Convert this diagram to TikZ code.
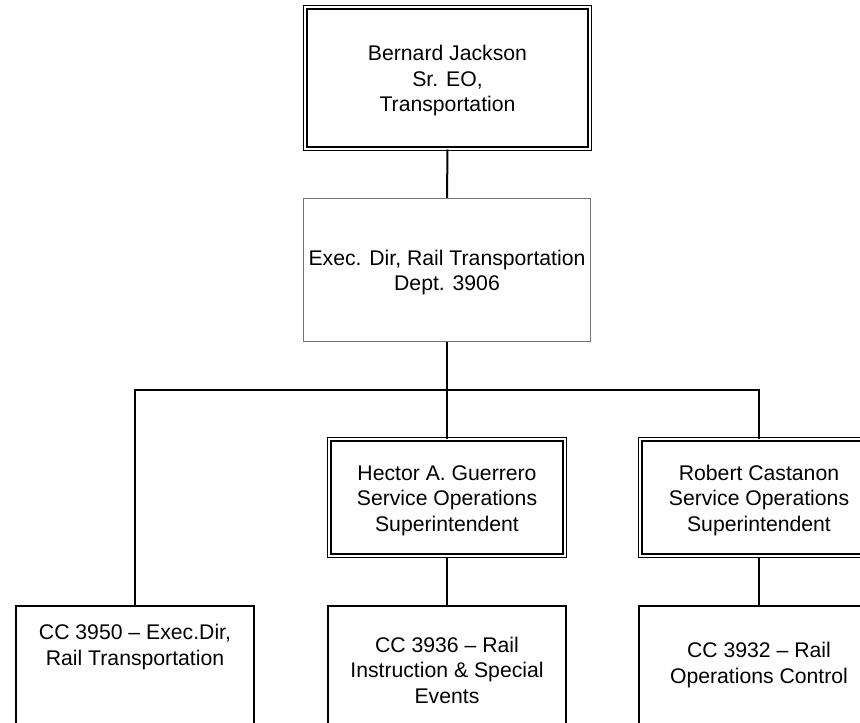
\documentclass[tikz,border=0pt]{standalone}
\usepackage{fontspec}
\setmainfont{Liberation Sans}
\newcommand\padtop[1]{\rule{0pt}{#1}}
\begin{document}
\begin{tikzpicture}[x=1pt,y=-1pt,
  txt/.style={font=\fontsize{21.2}{25.5}\selectfont, align=center, inner sep=0pt},
  dbox/.style={draw=black, double=white, line width=1.5pt, double distance=1.6pt, inner sep=0pt, align=center, font=\fontsize{21.2}{25.5}\selectfont},
  gbox/.style={draw=black!55, line width=1.2pt, inner sep=0pt, align=center, font=\fontsize{21.2}{25.5}\selectfont},
  bbox/.style={draw=black, line width=2pt, inner sep=0pt},
  conn/.style={draw=black, line width=2pt}]
\useasboundingbox (0,0) rectangle (860,723);
\clip (0,0) rectangle (860,723);
\fill[white] (0,0) rectangle (860,723);
% boxes
\node[dbox, minimum width=284.5pt, minimum height=141.5pt] (top) at (447.5,78) {\padtop{20.5pt}Bernard Jackson\\Sr. EO,\\Transportation};
\node[gbox, minimum width=287pt, minimum height=143pt] (exec) at (447,270) {\padtop{20pt}Exec. Dir, Rail Transportation\\Dept. 3906};
\node[dbox, minimum width=235.5pt, minimum height=116.5pt] (hector) at (447,497.5) {\padtop{21pt}Hector A. Guerrero\\Service Operations\\Superintendent};
\node[dbox, minimum width=237.5pt, minimum height=116.5pt] (robert) at (759,497.5) {\padtop{21pt}Robert Castanon\\Service Operations\\Superintendent};
\node[bbox, minimum width=238pt, minimum height=154pt] (cc3950) at (135,683) {};
\node[bbox, minimum width=238pt, minimum height=154pt] (cc3936) at (447,683) {};
\node[bbox, minimum width=240pt, minimum height=154pt] (cc3932) at (759,683) {};
% texts of the bottom boxes
\node[txt] (t3950) at (135,647) {CC 3950 -- Exec.Dir,\\Rail Transportation};
\node[txt] (t3936) at (447,670) {CC 3936 -- Rail\\Instruction \& Special\\Events};
\node[txt] (t3932) at (759,665) {CC 3932 -- Rail\\Operations Control};
% connectors
\coordinate (j) at (447,390);
\draw[conn] (top.south) -- (exec.north);
\draw[conn] (exec.south) -- (j);
\draw[conn] (j) -| (cc3950.north);
\draw[conn] (j) -- (hector.north);
\draw[conn] (j) -| (robert.north);
\draw[conn] (hector.south) -- (cc3936.north);
\draw[conn] (robert.south) -- (cc3932.north);
\end{tikzpicture}
\end{document}
